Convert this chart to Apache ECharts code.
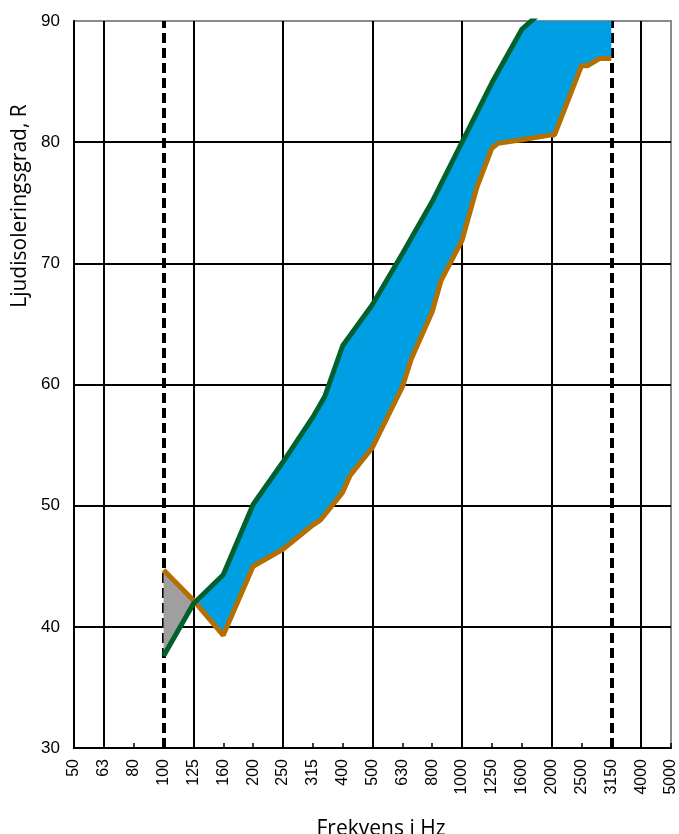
<!DOCTYPE html>
<html>
<head>
<meta charset="utf-8">
<script src="https://cdn.jsdelivr.net/npm/echarts@6/dist/echarts.min.js"></script>
<style>
  html, body { margin: 0; padding: 0; background: #fff; }
  #chart { width: 679px; height: 834px; }
</style>
</head>
<body>
<div id="chart"></div>
<script>
// third-octave bands along the x axis
var freqLabels = ['50', '63', '80', '100', '125', '160', '200', '250', '315', '400', '500',
                  '630', '800', '1000', '1250', '1600', '2000', '2500', '3150', '4000', '5000'];

// [band position, R] - band position counts from 50 Hz = 0
var upperCurve = [[3, 37.6], [4, 41.9], [5, 44.3], [6, 50.1], [7, 53.6], [8, 57.3], [8.4, 59.0],
                  [9, 63.2], [10, 66.6], [11, 70.8], [12, 75.1], [13, 80.0], [14, 84.9],
                  [15, 89.3], [16, 91.5], [17, 93.5], [18, 95.5]];

var lowerCurve = [[3, 44.7], [4, 42.2], [5, 39.3], [6, 45.0], [7, 46.4], [8, 48.4], [8.25, 48.8],
                  [9, 51.1], [9.25, 52.5], [10, 54.8], [11, 59.8], [11.3, 62.1], [12, 66.0],
                  [12.3, 68.6], [13, 71.9], [13.5, 76.3], [14, 79.5], [14.2, 79.9], [15, 80.2],
                  [16, 80.6], [16.1, 80.6], [17, 86.3], [17.2, 86.3], [17.6, 86.9], [18, 86.9]];

// range limits (dashed)
var limitFreqs = ['100', '3150'];

var myChart = echarts.init(document.getElementById('chart'));

var band = function(from, to, color){
    return {
        type: 'custom',
        xAxisIndex: 0,
        yAxisIndex: 0,
        clip: true,
        silent: true,
        z: 2,
        data: [[from, 30]],
        renderItem: function(params, api){
            var up = upperCurve.filter(function(p){ return p[0] >= from && p[0] <= to; });
            var lo = lowerCurve.filter(function(p){ return p[0] >= from && p[0] <= to; }).reverse();
            var pts = up.concat(lo).map(function(p){ return api.coord(p); });
            return {
                type: 'polygon',
                shape: {points: pts},
                style: {fill: color}
            };
        }
    };
};

var textFont = 'Liberation Sans, Arial, sans-serif';

var option = {
    animation: false,
    grid: {
        left: 74, right: 8, top: 21, bottom: 86,
        show: true,
        borderColor: '#8a8a8a',
        borderWidth: 2
    },
    xAxis: [{
        type: 'value',
        min: 0,
        max: 20,
        show: false,
        position: 'top'
    }, {
        type: 'category',
        data: freqLabels,
        boundaryGap: false,
        position: 'bottom',
        axisLine: {lineStyle: {color: '#000', width: 2}},
        axisTick: {show: true, inside: true, length: 5, interval: 0, lineStyle: {color: '#000', width: 1.5}},
        axisLabel: {rotate: 90, interval: 0, fontSize: 16, margin: 11, color: '#000', fontFamily: textFont},
        splitLine: {
            show: true,
            interval: function(i){ return i % 3 === 1; },
            lineStyle: {color: '#000', width: 2}
        }
    }],
    yAxis: {
        type: 'value',
        min: 30,
        max: 90,
        interval: 10,
        axisLine: {show: true, lineStyle: {color: '#000', width: 2}},
        axisTick: {show: false},
        axisLabel: {fontSize: 17, margin: 14, color: '#000', fontFamily: textFont},
        splitLine: {show: true, showMaxLine: false, lineStyle: {color: '#000', width: 2}}
    },
    graphic: [{
        type: 'text',
        x: 20,
        y: 206,
        rotation: Math.PI / 2,
        style: {
            text: 'Ljudisoleringsgrad, R',
            fontSize: 21,
            fontFamily: 'Open Sans',
            fill: '#000',
            align: 'center',
            verticalAlign: 'middle'
        }
    }, {
        type: 'text',
        x: 381,
        y: 829,
        style: {
            text: 'Frekvens i Hz',
            fontSize: 21,
            fontFamily: 'Open Sans',
            fill: '#000',
            align: 'center',
            verticalAlign: 'middle'
        }
    }],
    series: [{
        name: 'limits',
        type: 'line',
        xAxisIndex: 0,
        data: [],
        markLine: {
            silent: true,
            z: 1,
            symbol: ['none', 'none'],
            label: {show: false},
            lineStyle: {color: '#000', width: 4, type: [10, 5]},
            data: limitFreqs.map(function(f){ return {xAxis: freqLabels.indexOf(f)}; })
        }
    },
    band(3, 4, '#a09f9e'),
    band(4, 18, '#009fe3'),
    {
        name: 'lower',
        type: 'line',
        xAxisIndex: 0,
        z: 3,
        showSymbol: false,
        data: lowerCurve,
        lineStyle: {color: '#b56f00', width: 5}
    }, {
        name: 'upper',
        type: 'line',
        xAxisIndex: 0,
        z: 4,
        showSymbol: false,
        data: upperCurve,
        lineStyle: {color: '#00612e', width: 5}
    }]
};

myChart.setOption(option);
</script>
</body>
</html>
